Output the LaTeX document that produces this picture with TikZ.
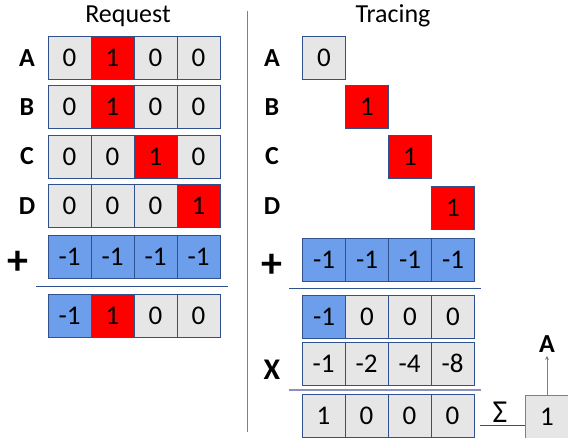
\documentclass[tikz,border=0pt]{standalone}
\usepackage{fontspec}
\setmainfont{Carlito}
\usetikzlibrary{arrows.meta}
\definecolor{cellgray}{HTML}{E7E6E6}
\definecolor{cellblue}{HTML}{6D9EEB}
\definecolor{cellred}{HTML}{FF0000}
\definecolor{edgeblue}{HTML}{2F528F}
\definecolor{rulelight}{HTML}{8F8FBF}
\begin{document}
\begin{tikzpicture}[x=1pt,y=-1pt,
  cell/.style={draw=edgeblue, line width=0.8pt, minimum width=43pt, minimum height=43pt, inner sep=0pt, font=\fontsize{27}{27}\selectfont},
  gcell/.style={cell, fill=cellgray},
  rcell/.style={cell, fill=cellred},
  bcell/.style={cell, fill=cellblue},
  lab/.style={font=\fontsize{26}{26}\selectfont\bfseries},
  title/.style={font=\fontsize{26}{26}\selectfont},
  oprule/.style={draw=edgeblue, line width=1pt},
  oprule2/.style={draw=rulelight, line width=1.8pt}]
\useasboundingbox (0,0) rectangle (568,438);
% titles and divider
\node[title] (treq) at (128,16) {Request};
\node[title] (ttr) at (393,16) {Tracing};
\draw[gray, line width=0.8pt] (247,11) -- (247,432);
% ---------- Request ----------
\node[lab] (la) at (27,58) {A};
\node[lab] (lb) at (27,107) {B};
\node[lab] (lc) at (27,156) {C};
\node[lab] (ld) at (27,206) {D};
\node[font=\fontsize{42}{42}\selectfont\bfseries] (lp) at (18,263) {+};
\foreach \v/\s [count=\i] in {0/gcell,1/rcell,0/gcell,0/gcell}
  \node[\s] (ra\i) at ({69.5+43*(\i-1)},57.5) {\v};
\foreach \v/\s [count=\i] in {0/gcell,1/rcell,0/gcell,0/gcell}
  \node[\s] (rb\i) at ({69.5+43*(\i-1)},107) {\v};
\foreach \v/\s [count=\i] in {0/gcell,0/gcell,1/rcell,0/gcell}
  \node[\s] (rc\i) at ({69.5+43*(\i-1)},156.5) {\v};
\foreach \v/\s [count=\i] in {0/gcell,0/gcell,0/gcell,1/rcell}
  \node[\s] (rd\i) at ({69.5+43*(\i-1)},206) {\v};
\foreach \v/\s [count=\i] in {-1/bcell,-1/bcell,-1/bcell,-1/bcell}
  \node[\s] (rp\i) at ({69.5+43*(\i-1)},256.5) {\v};
\draw[oprule] (36,286.5) -- (228,286.5);
\foreach \v/\s [count=\i] in {-1/bcell,1/rcell,0/gcell,0/gcell}
  \node[\s] (rr\i) at ({69.5+43*(\i-1)},316) {\v};
% ---------- Tracing ----------
\node[lab] (ta) at (272,58) {A};
\node[lab] (tb) at (272,107) {B};
\node[lab] (tc) at (272,156) {C};
\node[lab] (td) at (272,206) {D};
\node[font=\fontsize{42}{42}\selectfont\bfseries] (tp) at (272,266) {+};
\node[font=\fontsize{30}{30}\selectfont\bfseries] (tx) at (272,370) {X};
\node[gcell] (ca) at (324,57.5) {0};
\node[rcell] (cb) at (367,107) {1};
\node[rcell] (cc) at (410,156.5) {1};
\node[rcell] (cd) at (453,208) {1};
\foreach \v/\s [count=\i] in {-1/bcell,-1/bcell,-1/bcell,-1/bcell}
  \node[\s] (tp\i) at ({324+43*(\i-1)},259.5) {\v};
\draw[oprule] (289,288.5) -- (481,288.5);
\foreach \v/\s [count=\i] in {-1/bcell,0/gcell,0/gcell,0/gcell}
  \node[\s] (tm\i) at ({324+43*(\i-1)},316.5) {\v};
\foreach \v/\s [count=\i] in {-1/gcell,-2/gcell,-4/gcell,-8/gcell}
  \node[\s] (tw\i) at ({323.5+43*(\i-1)},363.5) {\v};
\draw[oprule2] (289,390) -- (481,390);
\foreach \v/\s [count=\i] in {1/gcell,0/gcell,0/gcell,0/gcell}
  \node[\s] (tr\i) at ({323.5+43*(\i-1)},416) {\v};
% sum box
\node[gcell, draw=gray] (one) at (547,416.5) {1};
\coordinate (s0) at (480,425);
\draw[black!70, line width=0.8pt] (s0) -- (s0 -| one.west);
\node[font=\fontsize{32}{32}\selectfont] (sig) at (500,412) {Σ};
\node[lab] (outa) at (547,344) {A};
\draw[gray, line width=0.8pt, -{Stealth[length=4pt,width=4pt]}] (one.north) -- (outa.south);
\end{tikzpicture}
\end{document}
